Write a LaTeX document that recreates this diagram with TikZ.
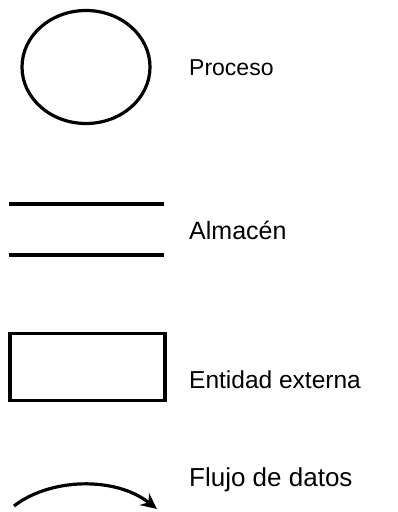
\documentclass[tikz,border=0pt]{standalone}
\usepackage{fontspec}
\setmainfont{Liberation Sans}
\usetikzlibrary{shapes.geometric,arrows.meta}
\begin{document}
\begin{tikzpicture}[x=1pt,y=-1pt,
  sym/.style={draw=black,line width=3.2pt,inner sep=0pt},
  lbl/.style={anchor=west,inner sep=0pt,text=black}]
\useasboundingbox (0,0) rectangle (398,512);
\node[sym,ellipse,minimum width=128pt,minimum height=113pt] (proc) at (86,67) {};
\node[lbl,font=\fontsize{23}{26}\selectfont] (tproc) at (189,68) {Proceso};
\coordinate (a1) at (9,204);
\coordinate (a2) at (164,204);
\coordinate (b1) at (9,255);
\coordinate (b2) at (164,255);
\draw[line width=3.4pt] (a1) -- (a2);
\draw[line width=3.4pt] (b1) -- (b2);
\node[lbl,font=\fontsize{25}{28}\selectfont] (talm) at (189,230) {Almacén};
\node[sym,rectangle,minimum width=155pt,minimum height=67pt] (ent) at (87.5,367) {};
\node[lbl,font=\fontsize{24.5}{28}\selectfont] (tent) at (189,380) {Entidad externa};
\coordinate (f1) at (14,506);
\coordinate (f2) at (157,509);
\draw[line width=3.2pt,-{Stealth[length=16pt,width=15pt]}] (f1) .. controls (50,478) and (115,476) .. (f2);
\node[lbl,font=\fontsize{26}{30}\selectfont] (tflu) at (189,480) {Flujo de datos};
\end{tikzpicture}
\end{document}
